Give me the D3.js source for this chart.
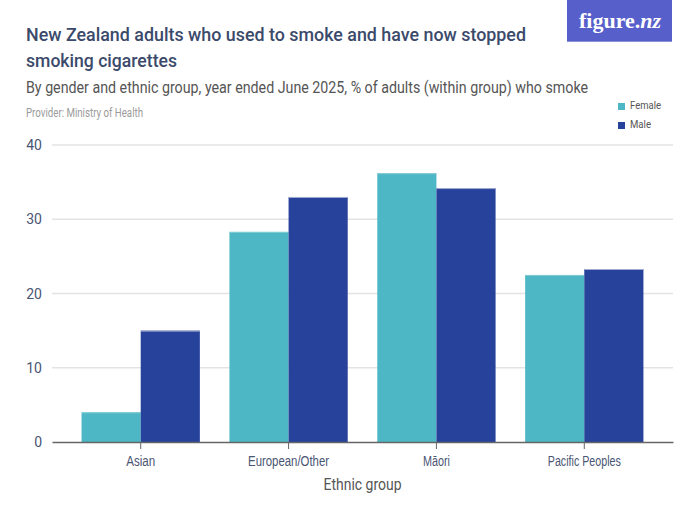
<!DOCTYPE html>
<html>
<head>
<meta charset="utf-8">
<script src="https://cdn.jsdelivr.net/npm/d3@7"></script>
<style>
  body { margin: 0; background: #fff; }
  svg { display: block; font-family: Roboto, "Liberation Sans", sans-serif; }
</style>
</head>
<body>
<div id="chart"></div>
<script>
const width = 700;
const height = 525;

// data
const groups = ["Asian", "European/Other", "Māori", "Pacific Peoples"];
const seriesNames = ["Female", "Male"];
const female = [4.0, 28.3, 36.2, 22.5];
const male = [15.0, 33.0, 34.2, 23.3];
const yTicks = [0, 10, 20, 30, 40];

const colors = { Female: "#4db7c5", Male: "#26429b" };
const topColors = { Female: "#86cdd6", Male: "#a3abd0" };
const margin = { top: 145, right: 27, bottom: 83, left: 52 };

// the reference uses a condensed face, so squeeze text to its measured width
function fit(sel, w) {
  sel.attr("textLength", w).attr("lengthAdjust", "spacingAndGlyphs");
  return sel;
}

const svg = d3.select("#chart").append("svg")
  .attr("width", width)
  .attr("height", height);

// header
fit(svg.append("text")
  .attr("x", 26).attr("y", 41)
  .attr("fill", "#3b4a6b")
  .style("font-size", "18.5px")
  .style("font-weight", 500)
  .text("New Zealand adults who used to smoke and have now stopped"), 500);
fit(svg.append("text")
  .attr("x", 26).attr("y", 67)
  .attr("fill", "#3b4a6b")
  .style("font-size", "18.5px")
  .style("font-weight", 500)
  .text("smoking cigarettes"), 151);
fit(svg.append("text")
  .attr("x", 26).attr("y", 93)
  .attr("fill", "#555")
  .style("font-size", "16px")
  .text("By gender and ethnic group, year ended June 2025, % of adults (within group) who smoke"), 562);
fit(svg.append("text")
  .attr("x", 26).attr("y", 117)
  .attr("fill", "#9a9a9a")
  .style("font-size", "12px")
  .text("Provider: Ministry of Health"), 117);

// logo
svg.append("rect")
  .attr("x", 567).attr("y", 0)
  .attr("width", 105).attr("height", 42)
  .attr("fill", "#565fca");
svg.append("rect")
  .attr("x", 567).attr("y", 41)
  .attr("width", 105).attr("height", 1)
  .attr("fill", "#8b91d8");
const logo = svg.append("text")
  .attr("x", 579).attr("y", 28)
  .attr("fill", "#fff")
  .style("font-family", "'Liberation Serif', 'DejaVu Serif', serif")
  .style("font-weight", "bold")
  .style("font-size", "22px");
logo.append("tspan").text("figure.");
logo.append("tspan").style("font-style", "italic").text("nz");

// legend
const legend = svg.append("g");
seriesNames.forEach((name, i) => {
  const g = legend.append("g").attr("transform", `translate(618, ${103 + i * 19})`);
  g.append("rect").attr("width", 7).attr("height", 7).attr("fill", colors[name]);
  fit(g.append("text")
    .attr("x", 12).attr("y", 6)
    .attr("fill", "#555")
    .style("font-size", "11px")
    .text(name), name === "Female" ? 31 : 21);
});

const x = d3.scaleBand()
  .domain(groups)
  .range([margin.left, width - margin.right])
  .paddingInner(0.2)
  .paddingOuter(0.2);

const xSub = d3.scaleBand()
  .domain(seriesNames)
  .range([0, x.bandwidth()]);

const y = d3.scaleLinear()
  .domain([0, 40])
  .range([height - margin.bottom, margin.top]);

// gridlines
svg.append("g")
  .selectAll("line")
  .data(yTicks.filter(d => d > 0))
  .enter().append("line")
  .attr("x1", margin.left).attr("x2", width - margin.right)
  .attr("y1", d => y(d)).attr("y2", d => y(d))
  .attr("stroke", "#e3e3e3")
  .attr("stroke-width", 1.5);

// y labels
svg.append("g")
  .selectAll("text")
  .data(yTicks)
  .enter().append("text")
  .attr("x", 42)
  .attr("y", d => y(d) + 5)
  .attr("text-anchor", "end")
  .attr("fill", "#4a5573")
  .style("font-size", "14px")
  .text(d => d);

// bars
const rows = groups.map((g, i) => ({ group: g, Female: female[i], Male: male[i] }));
const barGroups = svg.append("g")
  .selectAll("g")
  .data(rows)
  .enter().append("g")
  .attr("transform", d => `translate(${x(d.group)},0)`);

const bars = barGroups.selectAll("g")
  .data(d => seriesNames.map(k => ({ key: k, value: d[k] })))
  .enter().append("g");

bars.append("rect")
  .attr("x", d => xSub(d.key))
  .attr("y", d => y(d.value))
  .attr("width", xSub.bandwidth())
  .attr("height", d => y(0) - y(d.value))
  .attr("fill", d => colors[d.key]);

bars.append("rect")
  .attr("x", d => xSub(d.key))
  .attr("y", d => y(d.value))
  .attr("width", xSub.bandwidth())
  .attr("height", 1)
  .attr("fill", d => topColors[d.key]);

// x axis
const labelWidths = { "Asian": 29, "European/Other": 81, "Māori": 27, "Pacific Peoples": 73 };
const xAxis = svg.append("g")
  .attr("transform", `translate(0, ${y(0)})`)
  .call(d3.axisBottom(x).tickSize(7).tickPadding(8).tickSizeOuter(0));
xAxis.select(".domain").attr("stroke", "#666").attr("stroke-width", 1.3);
xAxis.selectAll(".tick line").attr("stroke", "#666");
xAxis.selectAll(".tick text")
  .attr("fill", "#4a5573")
  .style("font-size", "14px")
  .style("font-family", "inherit")
  .attr("dy", null)
  .attr("y", 24)
  .each(function (d) { fit(d3.select(this), labelWidths[d]); });

fit(svg.append("text")
  .attr("x", (margin.left + width - margin.right) / 2 - 39)
  .attr("y", 490)
  .attr("fill", "#555")
  .style("font-size", "17px")
  .text("Ethnic group"), 78);
</script>
</body>
</html>
